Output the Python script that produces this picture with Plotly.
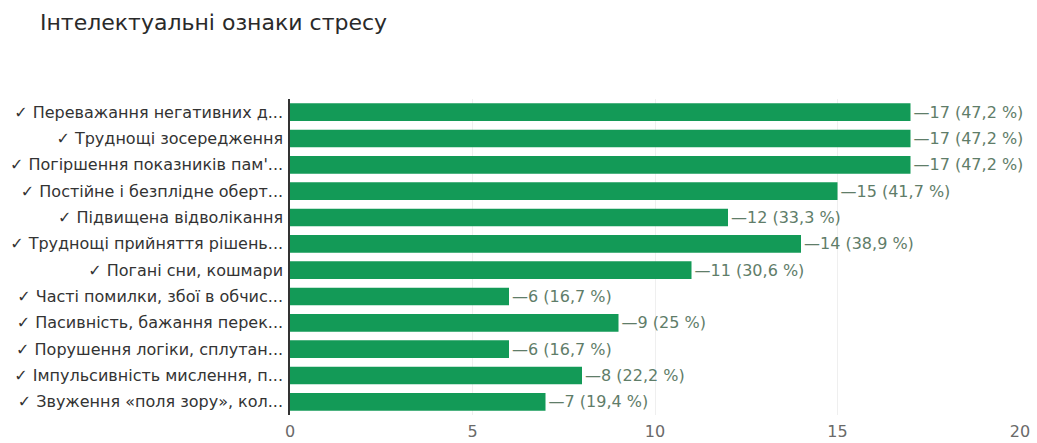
import plotly.graph_objects as go

# Response categories (top to bottom), counts and shares
categories = [
    "✓ Переважання негативних д...",
    "✓ Труднощі зосередження",
    "✓ Погіршення показників пам'...",
    "✓ Постійне і безплідне оберт...",
    "✓ Підвищена відволікання",
    "✓ Труднощі прийняття рішень...",
    "✓ Погані сни, кошмари",
    "✓ Часті помилки, збої в обчис...",
    "✓ Пасивність, бажання перек...",
    "✓ Порушення логіки, сплутан...",
    "✓ Імпульсивність мислення, п...",
    "✓ Звуження «поля зору», кол...",
]
counts = [17, 17, 17, 15, 12, 14, 11, 6, 9, 6, 8, 7]
percents = ["47,2", "47,2", "47,2", "41,7", "33,3", "38,9", "30,6", "16,7", "25", "16,7", "22,2", "19,4"]
x_ticks = [0, 5, 10, 15, 20]

labels = [f"—{c} ({p} %)" for c, p in zip(counts, percents)]

FONT = "DejaVu Sans, Roboto, Arial, sans-serif"

fig = go.Figure(
    go.Bar(
        x=counts,
        y=categories,
        orientation="h",
        marker=dict(color="#139a57", line=dict(width=0)),
        text=labels,
        textposition="outside",
        constraintext="none",
        textfont=dict(family=FONT, size=16, color="#5f7d69"),
        cliponaxis=False,
    )
)

fig.update_layout(
    width=1037,
    height=443,
    margin=dict(l=290, r=17, t=99, b=28),
    paper_bgcolor="white",
    plot_bgcolor="white",
    bargap=0.33,
    showlegend=False,
    title=dict(
        text="Інтелектуальні ознаки стресу",
        xref="container",
        yref="container",
        x=40 / 1037,
        xanchor="left",
        y=1 - 22 / 443,
        yanchor="middle",
        font=dict(family=FONT, size=22, color="#2a2a2a"),
    ),
    font=dict(family=FONT),
)

fig.update_xaxes(
    range=[0, 20],
    tickvals=x_ticks,
    showgrid=True,
    gridcolor="#efefef",
    gridwidth=1,
    zeroline=False,
    showline=False,
    automargin=False,
    tickfont=dict(size=16, color="#6a6a6a"),
    ticklabelstandoff=5,
)
fig.update_yaxes(
    autorange="reversed",
    showline=True,
    linecolor="#333333",
    linewidth=1.5,
    ticks="",
    automargin=False,
    ticklabelstandoff=2,
    tickfont=dict(size=16, color="#333333"),
)

fig.write_html("out.html")
